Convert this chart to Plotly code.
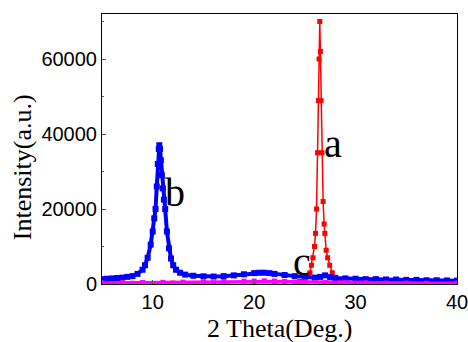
import plotly.graph_objects as go

# Sample a (red)
a_x = [5, 8, 12, 16, 20, 22, 23, 24, 24.5, 25, 25.3, 25.5, 25.65, 25.8, 25.95, 26.05, 26.15, 26.25, 26.33, 26.4, 26.47,
       26.53, 26.6, 26.69, 26.8, 26.9, 26.97, 27.1, 27.25, 27.45, 27.7, 28, 28.5, 29, 30, 33, 36, 40]
a_y = [200, 200, 250, 300, 350, 350, 380, 450, 700, 1200, 2000, 3000, 5000, 7000, 10000, 13500, 20000, 35000, 48900, 60000, 70000,
       62000, 48900, 35000, 22000, 16000, 13500, 9000, 7000, 5000, 3000, 1800, 900, 600, 400, 300, 250, 200]

# Sample b (blue)
b_x = [5, 5.5, 6, 6.5, 7, 7.5, 8, 8.5, 9, 9.24, 9.5, 9.8, 10.0, 10.15, 10.28, 10.4, 10.5, 10.6, 10.65, 10.72, 10.8,
       10.9, 11.0, 11.1, 11.23, 11.4, 11.6, 11.8, 12.02, 12.3, 12.7, 13.2, 14, 15, 16, 17, 18, 19, 20, 20.5, 21, 21.5,
       22, 23, 24, 25, 26, 26.5, 27, 27.5, 28, 29, 30, 31, 32, 33, 34, 35, 36, 37, 38, 39, 40]
b_y = [1300, 1400, 1500, 1600, 1700, 1900, 2100, 2700, 3800, 5000, 7000, 10500, 14000, 17500, 20000, 26000, 32000, 36000, 37000, 36000, 33000,
       29000, 25500, 22500, 20000, 14000, 9500, 6800, 5000, 3800, 3000, 2500, 2200, 2050, 2000, 2100, 2300, 2600, 2900, 3000, 3000, 2900,
       2700, 2400, 2100, 1900, 1700, 1900, 2300, 1800, 1600, 1500, 1400, 1300, 1300, 1200, 1200, 1100, 1100, 1000, 1000, 950, 900]

# Sample c (magenta)
c_x = [5, 7, 9, 11, 13, 15, 17, 19, 20, 21, 22, 23, 25, 27, 29, 31, 33, 35, 37, 40]
c_y = [300, 350, 400, 450, 500, 550, 650, 750, 800, 850, 800, 700, 550, 450, 350, 300, 250, 250, 200, 200]

y_ticks = [0, 20000, 40000, 60000]
y_ticktext = ["0", "20000", "40000", "60000"]
x_ticks = [10, 20, 30, 40]

fig = go.Figure()
styles = [(a_x, a_y, "#ff0000", 1.5, 5), (b_x, b_y, "#0000ff", 4, 6), (c_x, c_y, "#ff00ff", 3.5, 5)]
for xs, ys, col, lw, ms in styles:
    fig.add_trace(go.Scatter(
        x=xs, y=ys, mode="lines+markers",
        line=dict(color=col, width=lw),
        marker=dict(symbol="square", size=ms, color=col),
        showlegend=False,
    ))

annots = [("a", 27.8, 37500), ("b", 12.2, 24500), ("c", 24.7, 6000)]
for t, x, y in annots:
    fig.add_annotation(x=x, y=y, text=t, showarrow=False,
                       font=dict(family="Liberation Serif", size=40, color="black"))

# axis titles
fig.add_annotation(x=0.501, y=-0.104, xref="paper", yref="paper", xanchor="center", yanchor="top",
                   text="2 Theta(Deg.)", showarrow=False,
                   font=dict(family="Liberation Serif", size=26, color="black"))
fig.add_annotation(x=-0.225, y=0.433, xref="paper", yref="paper", xanchor="center", yanchor="middle",
                   text="Intensity(a.u.)", textangle=-90, showarrow=False,
                   font=dict(family="Liberation Serif", size=26, color="black"))

fig.update_layout(
    width=468, height=342,
    margin=dict(l=102, r=11, t=14, b=58),
    paper_bgcolor="white", plot_bgcolor="white",
    font=dict(family="Liberation Sans", color="black"),
)
fig.update_xaxes(
    range=[5, 40], tickvals=x_ticks, automargin=False, ticklabeloverflow="allow",
    showgrid=False, zeroline=False,
    showline=True, linecolor="black", linewidth=1, mirror=True,
    ticks="inside", ticklen=4, tickcolor="#555",
    tickfont=dict(size=20, family="Liberation Sans"),
)
fig.update_yaxes(
    range=[0, 72000], tickvals=y_ticks, ticktext=y_ticktext, automargin=False,
    showgrid=False, zeroline=False,
    showline=True, linecolor="black", linewidth=1, mirror=True,
    ticks="inside", ticklen=4, tickcolor="#555",
    minor=dict(tickvals=[10000, 30000, 50000, 70000], ticks="inside", ticklen=2, tickcolor="#555"),
    tickfont=dict(size=20, family="Liberation Sans"),
)

fig.write_html("out.html")
